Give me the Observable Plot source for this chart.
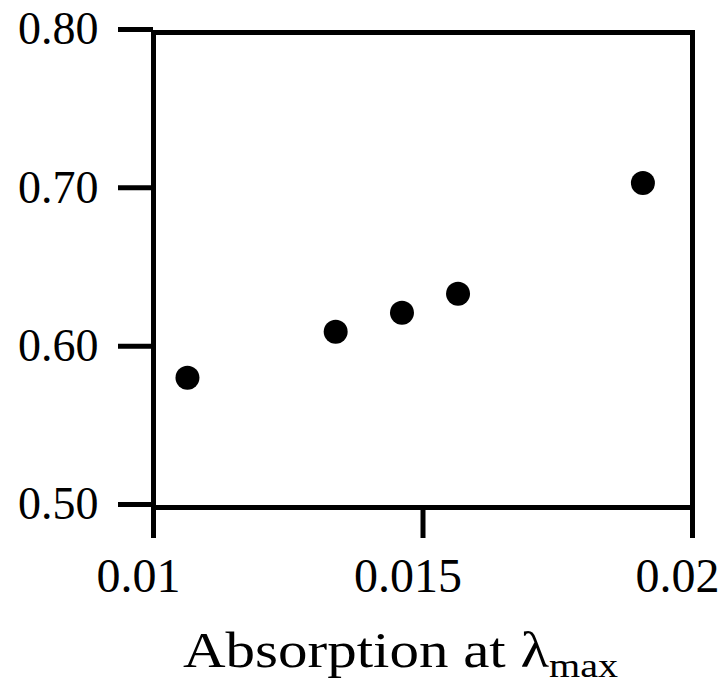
<!DOCTYPE html>
<html>
<head>
<meta charset="utf-8">
<script src="https://cdn.jsdelivr.net/npm/d3@7"></script>
<script src="https://cdn.jsdelivr.net/npm/@observablehq/plot@0.6"></script>
<style>
  html, body { margin: 0; padding: 0; background: #fff; }
  svg { display: block; }
</style>
</head>
<body>
<div id="chart"></div>
<script>
// Data
const absorption = [0.01063, 0.01338, 0.01461, 0.01565, 0.01908];
const yValues    = [0.582, 0.611, 0.623, 0.635, 0.705];
const xTicks = [0.01, 0.015, 0.02];
const yTicks = [0.50, 0.60, 0.70, 0.80];
const xTickLabels = ["0.01", "0.015", "0.02"];
const yTickLabels = ["0.50", "0.60", "0.70", "0.80"];
const xLabel = "Absorption at λ";
const xLabelSub = "max";

const points = absorption.map((x, i) => ({x, y: yValues[i]}));
const font = "'Liberation Serif', 'Times New Roman', serif";
const labelOf = (ticks, labels) => (d) => labels[ticks.findIndex(t => Math.abs(t - d) < 1e-9)];

const chart = Plot.plot({
  width: 727,
  height: 686,
  marginLeft: 153,
  marginRight: 35,
  marginTop: 32,
  marginBottom: 179,
  style: {fontFamily: font, background: "#fff", color: "#000"},
  x: {domain: [0.01, 0.02]},
  y: {domain: [0.5, 0.8]},
  marks: [
    Plot.frame({stroke: "#000", strokeWidth: 5}),
    Plot.axisY({
      ticks: yTicks,
      tickSize: 35,
      tickPadding: 20,
      strokeWidth: 5,
      fontSize: 46,
      tickFormat: labelOf(yTicks, yTickLabels),
      label: null,
      dy: -3
    }),
    // tick lines only
    Plot.axisX({
      ticks: xTicks,
      tickSize: 31,
      strokeWidth: 5,
      tickFormat: () => "",
      label: null
    }),
    // tick labels only (offset as in the reference)
    Plot.axisX({
      ticks: xTicks,
      tickSize: 0,
      tickPadding: 50,
      fontSize: 48,
      tickFormat: labelOf(xTicks, xTickLabels),
      label: null,
      dx: -15
    }),
    Plot.dot(points, {x: "x", y: "y", r: 12, fill: "#000", stroke: "none"})
  ]
});

const svg = d3.select(chart);
const t = svg.append("text")
  .attr("transform", "translate(183,667) scale(1.18,1)")
  .attr("text-anchor", "start")
  .attr("font-family", font)
  .attr("font-size", 50)
  .attr("fill", "#000");
t.append("tspan").text(xLabel);
t.append("tspan").attr("font-size", 34).attr("dy", 10).text(xLabelSub);

document.getElementById("chart").appendChild(chart);
</script>
</body>
</html>
